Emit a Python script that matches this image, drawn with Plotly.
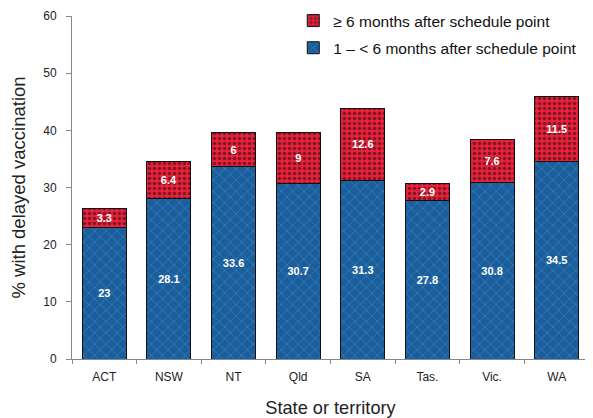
import plotly.graph_objects as go

states = ["ACT", "NSW", "NT", "Qld", "SA", "Tas.", "Vic.", "WA"]
delay_1_6 = [23, 28.1, 33.6, 30.7, 31.3, 27.8, 30.8, 34.5]
delay_6_plus = [3.3, 6.4, 6, 9, 12.6, 2.9, 7.6, 11.5]

label_1_6 = "1 \u2013 < 6 months after schedule point"
label_6_plus = "\u2265 6 months after schedule point"

bar_text_font = dict(color="white", size=11, family="Liberation Sans, Arial", weight="bold")

fig = go.Figure()

# untere Segmente (blau, Zickzack)
fig.add_trace(
    go.Bar(
        x=states,
        y=delay_1_6,
        name=label_1_6,
        legendgroup="a",
        legendrank=2,
        marker=dict(
            color="#1b5e9c",
            line=dict(color="#111111", width=1),
            pattern=dict(shape="x", fgcolor="#5a9ad6", size=8, solidity=0.18),
        ),
        text=[str(v) for v in delay_1_6],
        textposition="inside",
        insidetextanchor="middle",
        textangle=0,
        textfont=bar_text_font,
        constraintext="none",
    )
)

# obere Segmente (rot, Kritzel)
fig.add_trace(
    go.Bar(
        x=states,
        y=delay_6_plus,
        name=label_6_plus,
        legendgroup="b",
        legendrank=1,
        marker=dict(
            color="#e8213b",
            line=dict(color="#111111", width=1),
            pattern=dict(shape=".", fgcolor="#1a0a0a", size=5, solidity=0.4),
        ),
        text=[str(v) for v in delay_6_plus],
        textposition="inside",
        insidetextanchor="middle",
        textangle=0,
        textfont=bar_text_font,
        constraintext="none",
    )
)

# Seite hat 8px Body-Rand -> Ränder entsprechend verschoben
fig.update_layout(
    width=593,
    height=418,
    barmode="stack",
    bargap=0.32,
    margin=dict(l=64, r=12, t=8, b=67, autoexpand=False),
    plot_bgcolor="white",
    paper_bgcolor="white",
    font=dict(family="Liberation Sans, Arial", size=12, color="#222222"),
    showlegend=True,
    legend=dict(
        traceorder="grouped",
        tracegroupgap=4,
        x=0.428,
        y=1.035,
        xanchor="left",
        yanchor="top",
        font=dict(size=15.5, color="#111111"),
        bgcolor="rgba(0,0,0,0)",
        itemwidth=30,
    ),
    xaxis=dict(
        automargin=False,
        showline=True,
        linecolor="#888888",
        linewidth=1,
        ticks="outside",
        tickson="boundaries",
        ticklen=4,
        tickcolor="#888888",
        ticklabelstandoff=7,
        tickfont=dict(size=12, color="#222222"),
        title=dict(text="State or territory", font=dict(size=18.2, color="#222222"), standoff=17),
    ),
    yaxis=dict(
        automargin=False,
        range=[0, 60],
        dtick=10,
        showgrid=False,
        zeroline=False,
        showline=True,
        linecolor="#888888",
        linewidth=1,
        ticks="outside",
        ticklen=5,
        tickcolor="#888888",
        ticklabelstandoff=7,
        tickfont=dict(size=12, color="#222222"),
        title=dict(text="% with delayed vaccination", font=dict(size=18.5, color="#222222"), standoff=14),
    ),
)

fig.write_html("out.html")
